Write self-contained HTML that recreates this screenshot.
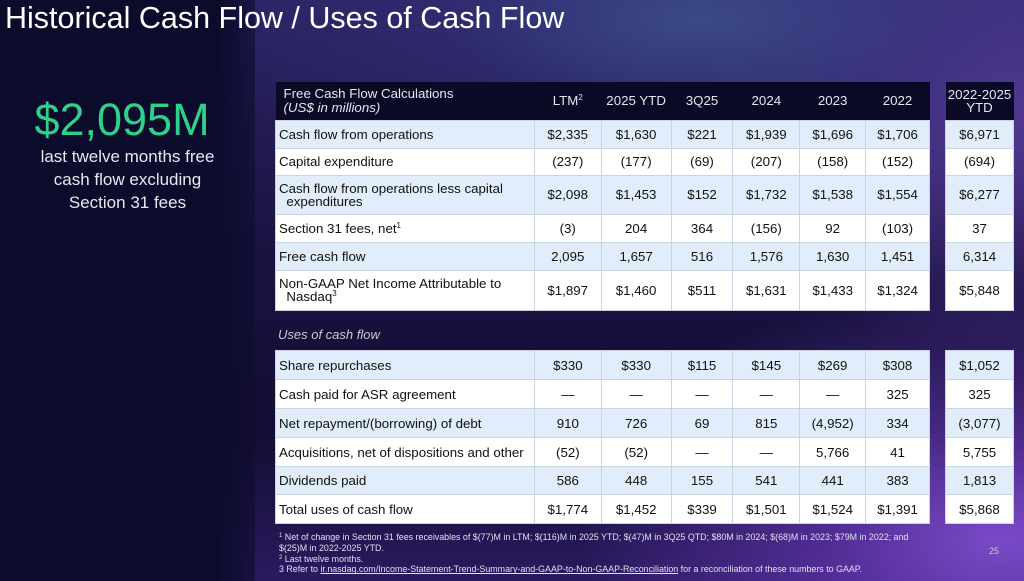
<!DOCTYPE html>
<html><head><meta charset="utf-8"><style>
*{margin:0;padding:0;box-sizing:border-box}
body{width:1024px;height:581px;overflow:hidden;position:relative;font-family:"Liberation Sans",sans-serif;
background:
radial-gradient(ellipse 420px 260px at 1000px 540px,#7a4ac8 0%,rgba(110,60,190,.6) 40%,rgba(60,30,120,0) 100%),
radial-gradient(ellipse 500px 200px at 700px 20px,#3c4a8a 0%,rgba(50,50,120,.5) 50%,rgba(30,20,80,0) 100%),
radial-gradient(ellipse 300px 250px at 1000px 100px,#5a3a9a 0%,rgba(60,40,120,0) 100%),
linear-gradient(180deg,#2c2466 0%,#181240 45%,#140e34 75%,#2a1a60 100%);}
.left{position:absolute;left:0;top:0;width:255px;height:581px;background:linear-gradient(90deg,#0b0b2c 0%,#0c0b2c 85%,rgba(14,12,46,.6) 100%)}
.title{position:absolute;left:5px;top:1px;font-size:30.5px;color:#fff;font-weight:300;white-space:nowrap}
.big{position:absolute;left:0;width:244px;text-align:center;top:94px;font-size:45px;color:#2ed08a}
.sub{position:absolute;left:0;width:255px;text-align:center;top:145px;font-size:17px;line-height:23px;color:#e8e8f0}
table{position:absolute;border-collapse:collapse;font-size:13.3px;color:#111}
td{border:1px solid #c9d3e2;text-align:center;padding:0;white-space:nowrap}
td.l{text-align:left;padding-left:3px;line-height:13px}
tr.a td{background:#e1edfb}
tr.b td{background:#fff}
tr.h td{background:#0b0a26;color:#e6e6f0;border:none;font-size:13.3px}
.uses{position:absolute;left:278px;top:327px;font-size:13px;font-style:italic;color:#c8c8d8}
.foot{position:absolute;left:279px;top:532px;font-size:8.9px;color:#e0e0ee;line-height:10.8px;white-space:nowrap}
.pg{position:absolute;left:989px;top:546px;font-size:9px;color:#ccc}
sup{font-size:8px;line-height:0;vertical-align:5px}
</style></head><body>
<div class="left"></div>
<div class="title">Historical Cash Flow / Uses of Cash Flow</div>
<div class="big">$2,095M</div>
<div class="sub">last twelve months free<br>cash flow excluding<br>Section 31 fees</div>

<table style="left:275px;top:82px;width:655px">
<colgroup><col style="width:259px"><col style="width:67px"><col style="width:70px"><col style="width:62px"><col style="width:67px"><col style="width:66px"><col style="width:64px"></colgroup>
<tr class="h" style="height:38px"><td class="l" style="padding-left:8px;line-height:14px">Free Cash Flow Calculations<br><i>(US$ in millions)</i></td><td>LTM<sup>2</sup></td><td>2025 YTD</td><td>3Q25</td><td>2024</td><td>2023</td><td>2022</td></tr>
<tr class="a" style="height:28px"><td class="l">Cash flow from operations</td><td>$2,335</td><td>$1,630</td><td>$221</td><td>$1,939</td><td>$1,696</td><td>$1,706</td></tr>
<tr class="b" style="height:27px"><td class="l">Capital expenditure</td><td>(237)</td><td>(177)</td><td>(69)</td><td>(207)</td><td>(158)</td><td>(152)</td></tr>
<tr class="a" style="height:39px"><td class="l">Cash flow from operations less capital<br>&nbsp;&nbsp;expenditures</td><td>$2,098</td><td>$1,453</td><td>$152</td><td>$1,732</td><td>$1,538</td><td>$1,554</td></tr>
<tr class="b" style="height:28px"><td class="l">Section 31 fees, net<sup>1</sup></td><td>(3)</td><td>204</td><td>364</td><td>(156)</td><td>92</td><td>(103)</td></tr>
<tr class="a" style="height:28px"><td class="l">Free cash flow</td><td>2,095</td><td>1,657</td><td>516</td><td>1,576</td><td>1,630</td><td>1,451</td></tr>
<tr class="b" style="height:40px"><td class="l">Non-GAAP Net Income Attributable to<br>&nbsp;&nbsp;Nasdaq<sup>3</sup></td><td>$1,897</td><td>$1,460</td><td>$511</td><td>$1,631</td><td>$1,433</td><td>$1,324</td></tr>
</table>

<table style="left:945px;top:82px;width:69px">
<tr class="h" style="height:38px"><td style="line-height:13px">2022-2025<br>YTD</td></tr>
<tr class="a" style="height:28px"><td>$6,971</td></tr>
<tr class="b" style="height:27px"><td>(694)</td></tr>
<tr class="a" style="height:39px"><td>$6,277</td></tr>
<tr class="b" style="height:28px"><td>37</td></tr>
<tr class="a" style="height:28px"><td>6,314</td></tr>
<tr class="b" style="height:40px"><td>$5,848</td></tr>
</table>

<div class="uses">Uses of cash flow</div>

<table style="left:275px;top:350px;width:655px">
<colgroup><col style="width:259px"><col style="width:67px"><col style="width:70px"><col style="width:62px"><col style="width:67px"><col style="width:66px"><col style="width:64px"></colgroup>
<tr class="a" style="height:29px"><td class="l">Share repurchases</td><td>$330</td><td>$330</td><td>$115</td><td>$145</td><td>$269</td><td>$308</td></tr>
<tr class="b" style="height:29px"><td class="l">Cash paid for ASR agreement</td><td>—</td><td>—</td><td>—</td><td>—</td><td>—</td><td>325</td></tr>
<tr class="a" style="height:29px"><td class="l">Net repayment/(borrowing) of debt</td><td>910</td><td>726</td><td>69</td><td>815</td><td>(4,952)</td><td>334</td></tr>
<tr class="b" style="height:29px"><td class="l">Acquisitions, net of dispositions and other</td><td>(52)</td><td>(52)</td><td>—</td><td>—</td><td>5,766</td><td>41</td></tr>
<tr class="a" style="height:28px"><td class="l">Dividends paid</td><td>586</td><td>448</td><td>155</td><td>541</td><td>441</td><td>383</td></tr>
<tr class="b" style="height:29px"><td class="l">Total uses of cash flow</td><td>$1,774</td><td>$1,452</td><td>$339</td><td>$1,501</td><td>$1,524</td><td>$1,391</td></tr>
</table>

<table style="left:945px;top:350px;width:69px">
<tr class="a" style="height:29px"><td>$1,052</td></tr>
<tr class="b" style="height:29px"><td>325</td></tr>
<tr class="a" style="height:29px"><td>(3,077)</td></tr>
<tr class="b" style="height:29px"><td>5,755</td></tr>
<tr class="a" style="height:28px"><td>1,813</td></tr>
<tr class="b" style="height:29px"><td>$5,868</td></tr>
</table>

<div class="foot"><sup style="font-size:6px;vertical-align:3px">1</sup> Net of change in Section 31 fees receivables of $(77)M in LTM; $(116)M in 2025 YTD; $(47)M in 3Q25 QTD; $80M in 2024; $(68)M in 2023; $79M in 2022; and<br>$(25)M in 2022-2025 YTD.<br><sup style="font-size:6px;vertical-align:3px">2</sup> Last twelve months.<br>3 Refer to <u>ir.nasdaq.com/Income-Statement-Trend-Summary-and-GAAP-to-Non-GAAP-Reconciliation</u> for a reconciliation of these numbers to GAAP.</div>
<div class="pg">25</div>
</body></html>
